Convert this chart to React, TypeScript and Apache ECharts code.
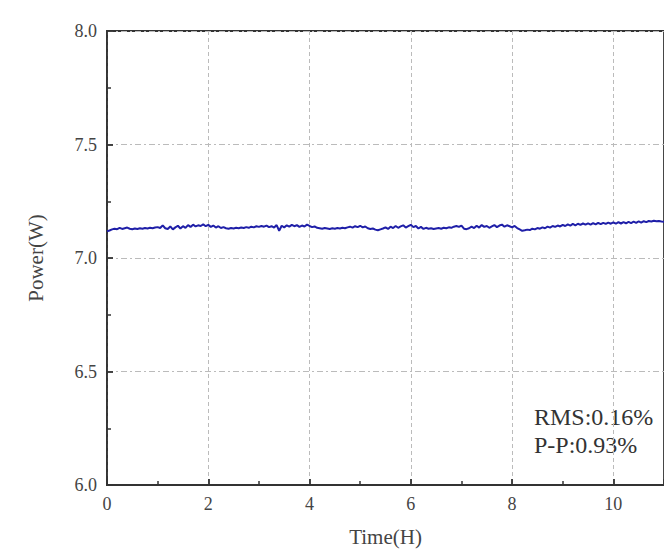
import React, { useEffect, useRef } from "react";
import * as echarts from "echarts";

const TIME_STEP_H = 0.05;
const powerW: number[] = [
  7.118, 7.121, 7.126, 7.129, 7.127, 7.133, 7.128, 7.131, 7.134, 7.129, 7.127, 7.130, 7.128, 7.131, 7.129, 7.132, 7.130, 7.133, 7.131, 7.134,
  7.136, 7.132, 7.144, 7.131, 7.128, 7.139, 7.126, 7.135, 7.142, 7.130, 7.140, 7.133, 7.145, 7.137, 7.147, 7.139, 7.144, 7.141, 7.148, 7.140,
  7.146, 7.137, 7.143, 7.134, 7.140, 7.132, 7.136, 7.131, 7.129, 7.132, 7.130, 7.133, 7.131, 7.134, 7.132, 7.136, 7.133, 7.138, 7.135, 7.140,
  7.137, 7.141, 7.138, 7.143, 7.136, 7.140, 7.134, 7.145, 7.120, 7.142, 7.135, 7.144, 7.138, 7.146, 7.140, 7.145, 7.137, 7.143, 7.139, 7.147,
  7.141, 7.136, 7.139, 7.133, 7.131, 7.129, 7.132, 7.130, 7.128, 7.131, 7.129, 7.132, 7.130, 7.133, 7.131, 7.135, 7.138, 7.134, 7.140, 7.136,
  7.142, 7.135, 7.139, 7.131, 7.128, 7.130, 7.125, 7.122, 7.126, 7.130, 7.135, 7.128, 7.138, 7.132, 7.141, 7.133, 7.139, 7.144, 7.134, 7.140,
  7.146, 7.136, 7.141, 7.130, 7.137, 7.128, 7.133, 7.129, 7.131, 7.128, 7.130, 7.132, 7.129, 7.133, 7.131, 7.135, 7.133, 7.138, 7.141, 7.137,
  7.143, 7.129, 7.127, 7.131, 7.138, 7.132, 7.142, 7.134, 7.145, 7.137, 7.141, 7.133, 7.139, 7.145, 7.136, 7.143, 7.147, 7.138, 7.144, 7.140,
  7.135, 7.141, 7.132, 7.126, 7.120, 7.122, 7.125, 7.123, 7.129, 7.126, 7.132, 7.129, 7.135, 7.131, 7.138, 7.134, 7.141, 7.137, 7.143, 7.139,
  7.146, 7.141, 7.148, 7.143, 7.150, 7.144, 7.151, 7.146, 7.152, 7.147, 7.153, 7.147, 7.154, 7.148, 7.155, 7.149, 7.155, 7.150, 7.156, 7.151,
  7.157, 7.151, 7.158, 7.152, 7.158, 7.153, 7.159, 7.154, 7.160, 7.155, 7.161, 7.156, 7.162, 7.158, 7.163, 7.161, 7.164, 7.162, 7.163, 7.161, 7.160,
];
const statLines: string[] = ["RMS:0.16%", "P-P:0.93%"];
const xName = "Time(H)";
const yName = "Power(W)";

const FONT = "'Liberation Serif', 'DejaVu Serif', serif";

export default function App() {
  const ref = useRef<HTMLDivElement>(null);
  useEffect(() => {
    if (!ref.current) return;
    const chart = echarts.init(ref.current, undefined, { renderer: "svg" });
    const data = powerW.map((v, i) => [+(i * TIME_STEP_H).toFixed(2), v]);
    const axisCommon = {
      axisLine: { show: true, lineStyle: { color: "#333", width: 1.8 } },
      axisTick: { show: true, inside: true, length: 6, lineStyle: { color: "#333", width: 1.8 } },
      minorTick: { show: true, splitNumber: 2, length: 4, lineStyle: { color: "#333", width: 1.5 } },
      axisLabel: { color: "#444", fontSize: 18, fontFamily: FONT },
      nameTextStyle: { color: "#444", fontSize: 21, fontFamily: FONT },
    };
    chart.setOption({
      animation: false,
      backgroundColor: "#fff",
      grid: {
        left: 107,
        top: 31,
        right: -4,
        bottom: 67,
        show: true,
        borderColor: "#333",
        borderWidth: 1.8,
        backgroundColor: "transparent",
      },
      xAxis: {
        type: "value",
        min: 0,
        max: 11,
        interval: 2,
        ...axisCommon,
        axisLabel: { ...axisCommon.axisLabel, margin: 10, showMaxLabel: false },
        splitLine: { show: true, lineStyle: { color: "#bbb", type: [4, 3], width: 1 } },
        name: xName,
        nameLocation: "middle",
        nameGap: 41,
      },
      yAxis: {
        type: "value",
        min: 6.0,
        max: 8.0,
        interval: 0.5,
        ...axisCommon,
        axisLabel: { ...axisCommon.axisLabel, margin: 10, formatter: (v: number) => v.toFixed(1) },
        splitLine: { show: true, lineStyle: { color: "#bbb", type: [6, 3, 2, 3], width: 1 } },
        name: yName,
        nameLocation: "middle",
        nameGap: 61,
      },
      graphic: [
        {
          type: "text",
          left: 534,
          top: 403,
          style: {
            text: statLines.join("\n"),
            fontSize: 24,
            lineHeight: 28,
            fontFamily: FONT,
            fill: "#333",
          },
        },
      ],
      series: [
        {
          type: "line",
          data,
          showSymbol: false,
          lineStyle: { color: "#1f1fa8", width: 2 },
        },
      ],
    });
    return () => chart.dispose();
  }, []);
  return (
    <div
      ref={ref}
      style={{ position: "absolute", left: 0, top: 0, width: 664, height: 552 }}
    />
  );
}
